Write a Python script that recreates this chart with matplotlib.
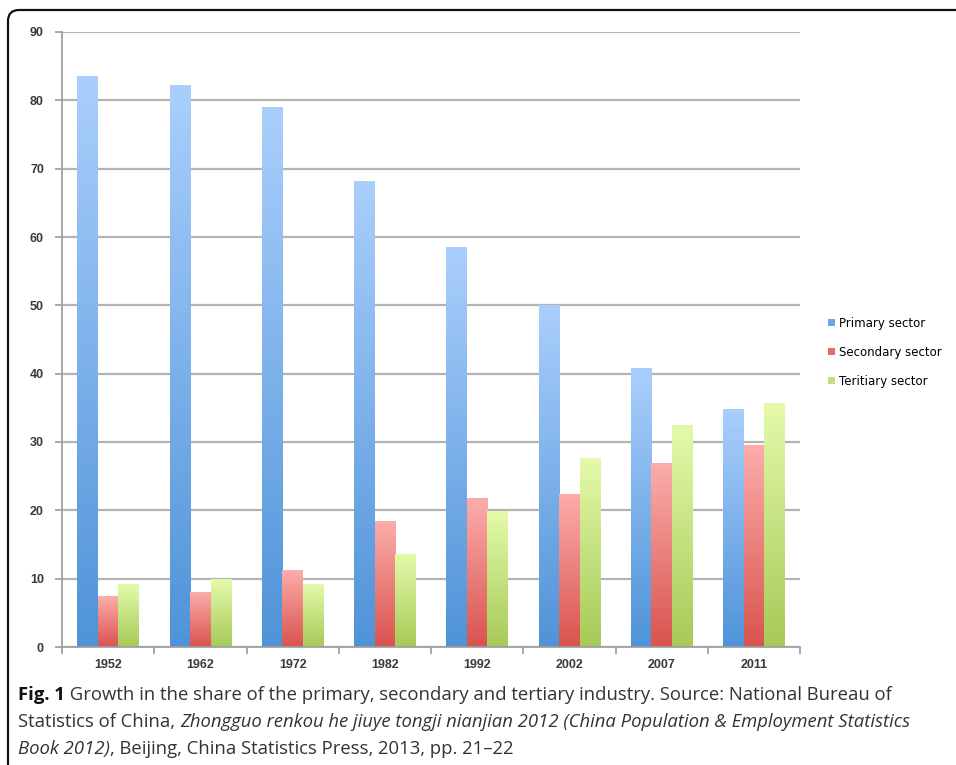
import numpy as np
import matplotlib.pyplot as plt
from matplotlib.colors import LinearSegmentedColormap
from matplotlib.patches import FancyBboxPatch, Patch

years = ["1952", "1962", "1972", "1982", "1992", "2002", "2007", "2011"]
primary = [83.5, 82.1, 78.9, 68.1, 58.5, 50.0, 40.8, 34.8]
secondary = [7.4, 8.0, 11.2, 18.4, 21.7, 22.3, 26.8, 29.5]
tertiary = [9.1, 9.9, 9.2, 13.5, 19.8, 27.6, 32.4, 35.7]
series_names = ["Primary sector", "Secondary sector", "Teritiary sector"]

# gradient colours, bottom -> top
grads = [("#4f93d8", "#aacffc"), ("#d9534e", "#fcadab"), ("#a6ca57", "#e4faaa")]
legend_cols = ["#6aa6e8", "#e86a67", "#bde27d"]

W, H = 956, 765
fig = plt.figure(figsize=(W / 100, H / 100), dpi=100)

# overlay in pixel units for the rounded frame
bg = fig.add_axes([0, 0, 1, 1], zorder=-1)
bg.set_xlim(0, W)
bg.set_ylim(H, 0)
bg.axis("off")
frame = FancyBboxPatch((8, 10), 1000, 800, boxstyle="round,pad=0,rounding_size=11",
                       fill=False, edgecolor="#111111", linewidth=1.6)
bg.add_patch(frame)

ax = fig.add_axes([62 / W, 1 - 647 / H, (800 - 62) / W, (647 - 32) / H])

x = np.arange(len(years))
bw = 0.222
data = [primary, secondary, tertiary]
grad = np.linspace(0, 1, 256).reshape(-1, 1)
for i, vals in enumerate(data):
    cmap = LinearSegmentedColormap.from_list("g%d" % i, grads[i])
    offs = (i - 1) * bw
    bars = ax.bar(x + offs, vals, bw, color="none", edgecolor="none", zorder=2)
    for b in bars:
        x0 = b.get_x()
        h = b.get_height()
        ax.imshow(grad, extent=[x0, x0 + bw, 0, h], origin="lower",
                  aspect="auto", cmap=cmap, zorder=2, interpolation="bilinear")

ax.set_xlim(-0.5, len(years) - 0.5)
ax.set_ylim(0, 90)
ax.set_yticks(np.arange(0, 91, 10))
ax.yaxis.grid(True, color="#b4b4b4", linewidth=1.6, zorder=0)
ax.set_axisbelow(True)

ax.set_xticks(x)
ax.set_xticklabels(years)
ax.set_xticks(np.arange(-0.5, len(years), 1), minor=True)
ax.tick_params(axis="x", which="major", length=0, pad=9)
ax.tick_params(axis="x", which="minor", length=5, color="#999999", width=1.2)
ax.tick_params(axis="y", length=5, color="#999999", width=1.2, pad=8)
for lab in ax.get_xticklabels() + ax.get_yticklabels():
    lab.set_fontsize(9)
    lab.set_family("Liberation Sans")
    lab.set_fontweight("bold")
    lab.set_color("#3a3a3a")

for s in ["top", "right"]:
    ax.spines[s].set_visible(False)
for s in ["left", "bottom"]:
    ax.spines[s].set_color("#a0a0a0")
    ax.spines[s].set_linewidth(1.3)

handles = [Patch(facecolor=c, edgecolor="none") for c in legend_cols]
fig.legend(handles, series_names, loc="upper left",
           bbox_to_anchor=(822 / W, 1 - 311 / H), frameon=False,
           fontsize=8.5, handlelength=0.6, handleheight=0.6, handletextpad=0.3,
           labelspacing=1.35, borderpad=0)

# caption with mixed styles
cap_lines = [
    [("Fig. 1", "bold", "normal", "#111111"),
     (" Growth in the share of the primary, secondary and tertiary industry. Source: National Bureau of",
      "normal", "normal", "#333333")],
    [("Statistics of China, ", "normal", "normal", "#333333"),
     ("Zhongguo renkou he jiuye tongji nianjian 2012 (China Population & Employment Statistics",
      "normal", "italic", "#333333")],
    [("Book 2012)", "normal", "italic", "#333333"),
     (", Beijing, China Statistics Press, 2013, pp. 21\u201322", "normal", "normal", "#333333")],
]
baselines = [700, 727, 754]
renderer = fig.canvas.get_renderer()
for line, yb in zip(cap_lines, baselines):
    xp = 18
    for txt, wt, st, col in line:
        t = fig.text(xp / W, 1 - yb / H, txt, fontsize=13.3, family="Open Sans",
                     fontweight=wt, fontstyle=st, color=col, va="baseline", ha="left")
        xp += t.get_window_extent(renderer).width

fig.savefig("out.png", dpi=100)
